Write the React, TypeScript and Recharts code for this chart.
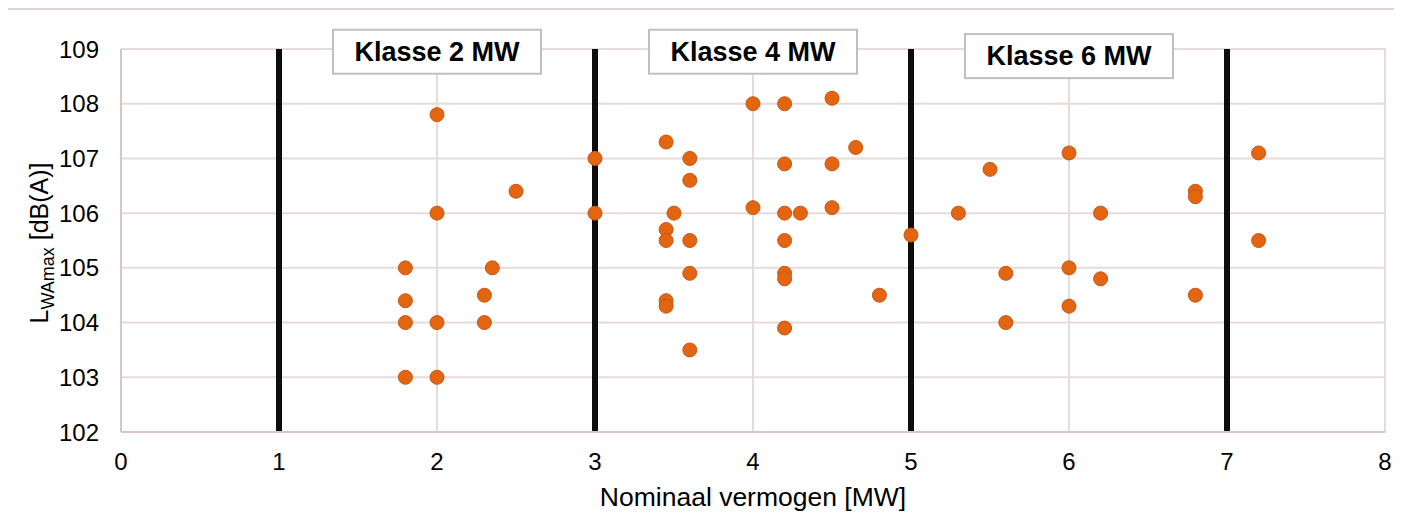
import { ScatterChart, Scatter, XAxis, YAxis, CartesianGrid, ReferenceLine, ReferenceDot } from 'recharts';

// nominal power [MW] and max sound power level [dB(A)] per turbine
const capacity = [
  1.8, 1.8, 1.8, 1.8,
  2.0, 2.0, 2.0, 2.0,
  2.3, 2.3, 2.35, 2.5,
  3.0, 3.0,
  3.45, 3.45, 3.45, 3.45, 3.45, 3.5,
  3.6, 3.6, 3.6, 3.6, 3.6,
  4.0, 4.0,
  4.2, 4.2, 4.2, 4.2, 4.2, 4.2, 4.2,
  4.3, 4.5, 4.5, 4.5, 4.65, 4.8,
  5.0, 5.3, 5.5, 5.6, 5.6,
  6.0, 6.0, 6.0, 6.2, 6.2,
  6.8, 6.8, 6.8, 7.2, 7.2,
];
const level = [
  105, 104.4, 104, 103,
  107.8, 106, 104, 103,
  104.5, 104, 105, 106.4,
  107, 106,
  107.3, 105.7, 105.5, 104.4, 104.3, 106,
  107, 106.6, 105.5, 104.9, 103.5,
  108, 106.1,
  108, 106.9, 106, 105.5, 104.9, 104.8, 103.9,
  106, 108.1, 106.9, 106.1, 107.2, 104.5,
  105.6, 106, 106.8, 104.9, 104,
  107.1, 105, 104.3, 106, 104.8,
  106.4, 106.3, 104.5, 107.1, 105.5,
];

const xTicks = [0, 1, 2, 3, 4, 5, 6, 7, 8];
const yTicks = [102, 103, 104, 105, 106, 107, 108, 109];
const classBorders = [1, 3, 5, 7];
const classLabels = ['Klasse 2 MW', 'Klasse 4 MW', 'Klasse 6 MW'];
const classLabelX = [2, 4, 6];
const classLabelY = [108.95, 108.95, 108.87];

const data = capacity.map((x, i) => ({ x, y: level[i] }));

const FONT = '"Liberation Sans", Arial, sans-serif';

function Dot(props: any) {
  return <circle cx={props.cx} cy={props.cy} r={7} fill="#e4650f" stroke="#c5581a" strokeWidth={1} />;
}

function classBox(text: string) {
  return (props: any) => (
    <g>
      <rect x={props.cx - 104} y={props.cy - 22} width={208} height={44} fill="#fff" stroke="#bfbfbf" strokeWidth={2} />
      <text x={props.cx} y={props.cy} textAnchor="middle" dominantBaseline="central" fontFamily={FONT} fontWeight="bold" fontSize={27} fill="#000">
        {text}
      </text>
    </g>
  );
}

function YLabel() {
  return (
    <text x={40} y={233} transform="rotate(-90 40 233)" textAnchor="middle" fontFamily={FONT} fontSize={25} fill="#000">
      L
      <tspan fontSize={18} dy={6}>WAmax</tspan>
      <tspan dy={-6}> [dB(A)]</tspan>
    </text>
  );
}

export default function App() {
  return (
    <div style={{ marginLeft: -2, marginTop: 0, borderLeft: '2px solid #e2d4d4', borderTop: '2px solid #e2d4d4', width: 1396, height: 509, background: '#fff' }}>
      <ScatterChart width={1394} height={509} margin={{ top: 39, right: 17, bottom: 0, left: 0 }}>
        <CartesianGrid stroke="#e6dada" strokeWidth={2} />
        <XAxis
          type="number"
          dataKey="x"
          domain={[0, 8]}
          ticks={xTicks}
          height={87}
          tickLine={false}
          tickSize={0}
          tickMargin={21}
          axisLine={{ stroke: '#d8c6c6', strokeWidth: 2 }}
          tick={{ fill: '#000', fontSize: 24, fontFamily: FONT }}
          label={{ value: 'Nominaal vermogen [MW]', position: 'insideBottom', offset: 13, fill: '#000', fontSize: 26.5, fontFamily: FONT }}
        />
        <YAxis
          type="number"
          dataKey="y"
          domain={[102, 109]}
          ticks={yTicks}
          width={113}
          tickLine={false}
          tickSize={0}
          tickMargin={22}
          axisLine={{ stroke: '#d8c6c6', strokeWidth: 2 }}
          tick={{ fill: '#000', fontSize: 24, fontFamily: FONT }}
          label={{ content: () => <YLabel /> }}
        />
        {classBorders.map((b) => (
          <ReferenceLine key={b} x={b} stroke="#0d0d0d" strokeWidth={6} />
        ))}
        {classLabels.map((t, i) => (
          <ReferenceDot key={t} x={classLabelX[i]} y={classLabelY[i]} shape={classBox(t)} />
        ))}
        <Scatter data={data} shape={<Dot />} isAnimationActive={false} />
      </ScatterChart>
    </div>
  );
}
